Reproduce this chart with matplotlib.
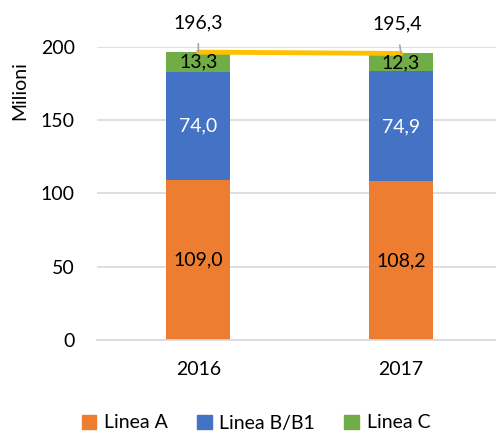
import matplotlib.pyplot as plt
from matplotlib.patches import Patch

# data (milioni)
years = ["2016", "2017"]
linea_a = [109.0, 108.2]
linea_b = [74.0, 74.9]
linea_c = [13.3, 12.3]
totale = [196.3, 195.4]

c_a = "#ED7D31"
c_b = "#4472C4"
c_c = "#70AD47"
c_tot = "#FFC000"

plt.rcParams['font.family'] = ['Lato', 'DejaVu Sans']

W, H = 496, 434
fig = plt.figure(figsize=(W / 100, H / 100), dpi=100)
ax = fig.add_axes([97 / W, 94 / H, 405.3 / W, 293.3 / H])

x = list(range(len(years)))
bw = 0.315
bottom_b = linea_a
bottom_c = [a + b for a, b in zip(linea_a, linea_b)]

ax.bar(x, linea_a, bw, color=c_a, zorder=2)
ax.bar(x, linea_b, bw, bottom=bottom_b, color=c_b, zorder=2)
ax.bar(x, linea_c, bw, bottom=bottom_c, color=c_c, zorder=2)

fs = 14
for i in x:
    ax.text(i, linea_a[i] / 2, f"{linea_a[i]:.1f}".replace(".", ","),
            ha="center", va="center", fontsize=fs, color="black", zorder=4)
    ax.text(i, bottom_b[i] + linea_b[i] / 2, f"{linea_b[i]:.1f}".replace(".", ","),
            ha="center", va="center", fontsize=fs, color="white", zorder=4)
    ax.text(i, bottom_c[i] + linea_c[i] / 2, f"{linea_c[i]:.1f}".replace(".", ","),
            ha="center", va="center", fontsize=fs, color="black", zorder=4)

# total line
ax.plot(x, totale, color=c_tot, lw=3.5, solid_capstyle="round", zorder=3, clip_on=False)

# total labels with leader lines
offsets = [0.0, -0.02]
for i in x:
    ax.annotate(f"{totale[i]:.1f}".replace(".", ","), xy=(i, totale[i]),
                xytext=(i + offsets[i], totale[i] + 20), textcoords="data",
                ha="center", va="center", fontsize=fs, annotation_clip=False,
                arrowprops=dict(arrowstyle="-", color="#A6A6A6", lw=1.2,
                                shrinkA=7, shrinkB=0))

ax.set_xlim(-0.5, 1.5)
ax.set_ylim(0, 200)
ax.set_yticks([0, 50, 100, 150, 200])
ax.set_xticks(x)
ax.set_xticklabels(years)
ax.yaxis.grid(True, color="#D9D9D9", lw=1.2, zorder=0)
ax.set_axisbelow(True)
for s in ["top", "right", "left"]:
    ax.spines[s].set_visible(False)
ax.spines["bottom"].set_color("#D9D9D9")
ax.spines["bottom"].set_linewidth(1.2)
ax.tick_params(axis="both", length=0, labelsize=fs)
ax.tick_params(axis="y", pad=16)
ax.tick_params(axis="x", pad=15)

fig.text(20 / W, 1 - 91 / H, "Milioni", rotation=90, ha="center", va="center", fontsize=fs)

handles = [Patch(color=c_a, label="Linea A"),
           Patch(color=c_b, label="Linea B/B1"),
           Patch(color=c_c, label="Linea C")]
fig.legend(handles=handles, loc="center", bbox_to_anchor=(256 / W, 1 - 423 / H),
           ncol=3, frameon=False, fontsize=fs, handlelength=0.75, handleheight=0.75,
           handletextpad=0.4, columnspacing=1.5)

fig.savefig("out.png", dpi=100)
